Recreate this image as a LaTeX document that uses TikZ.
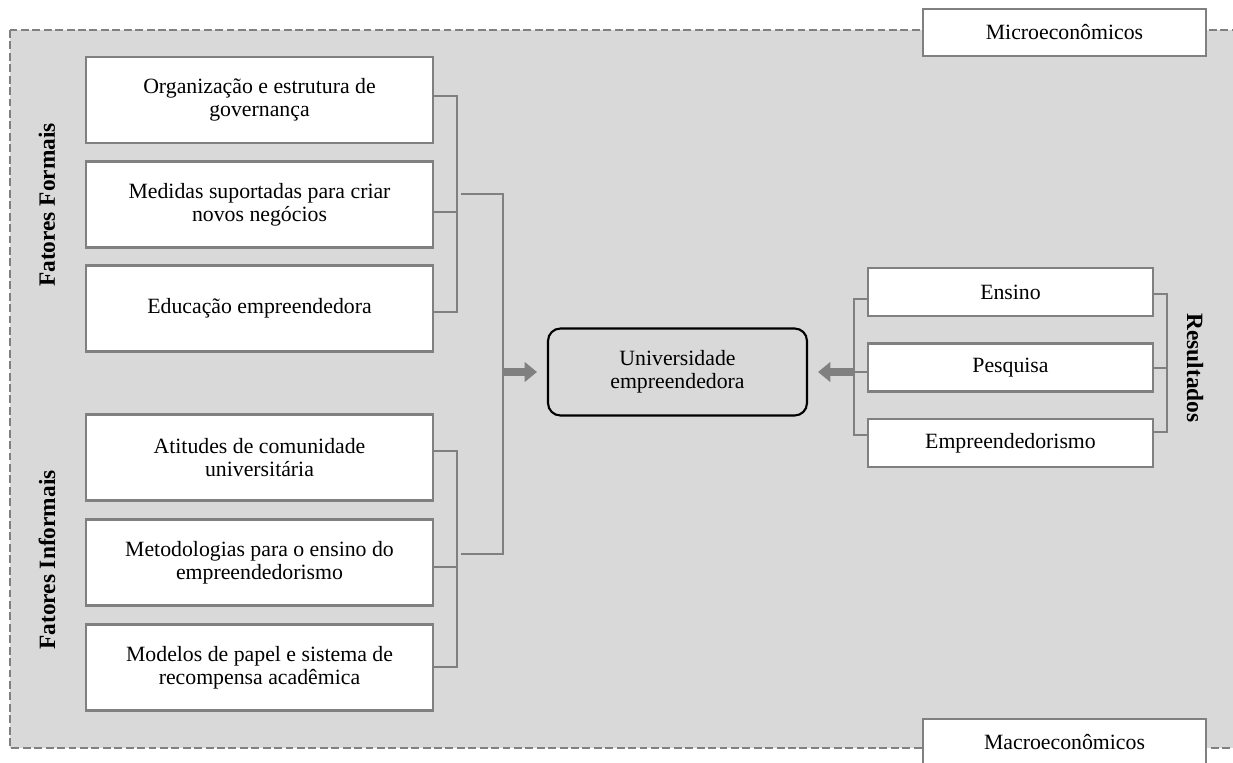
\documentclass[tikz,border=0pt]{standalone}
\usepackage{fontspec}
\setmainfont{Liberation Serif}
\usetikzlibrary{positioning}
\usetikzlibrary{arrows.meta}

\definecolor{fundo}{RGB}{217,217,217}
\definecolor{linha}{RGB}{128,128,128}

\tikzset{
  texto/.style={font=\fontsize{12.4}{13}\selectfont},
  caixa/.style={texto, draw=linha, line width=1.4pt, fill=white, align=center, inner sep=0pt,
    minimum width=6.94cm, minimum height=1.72cm},
  caixares/.style={caixa, minimum width=5.7cm, minimum height=0.96cm},
  caixaext/.style={caixa, minimum width=5.66cm, minimum height=0.94cm},
  central/.style={texto, draw=black, line width=1.2pt, rounded corners=7pt, align=center,
    inner sep=0pt, minimum width=5.18cm, minimum height=1.74cm},
  rotulo/.style={font=\fontsize{13.3}{14}\selectfont\bfseries},
  borda/.style={draw=linha, fill=fundo, line width=1.2pt, dash pattern=on 4.5pt off 2pt},
  chave/.style={draw=linha, line width=1.4pt},
  seta/.style={draw=linha, line width=4.5pt, -{Triangle[length=7pt,width=11pt]}}
}

\begin{document}
\begin{tikzpicture}[x=0.02cm, y=-0.02cm]
  \useasboundingbox (0,0) rectangle (1233,763);
  \clip (0,0) rectangle (1233,763);

  % fundo tracejado
  \draw[borda] (10,30) rectangle (1260,748);

  \node[caixaext] (micro) at (1064.5,32.5) {Microeconômicos};
  \node[caixaext] (macro) at (1064.5,742.5) {Macroeconômicos};

  % fatores formais
  \node[caixa] (org) at (259.5,100) {Organização e estrutura de\\governança};
  \node[caixa] (med) at (259.5,204.5) {Medidas suportadas para criar\\novos negócios};
  \node[caixa] (edu) at (259.5,308.5) {Educação empreendedora};
  \node[rotulo, rotate=90] (formais) at (47,205) {Fatores Formais};

  % fatores informais
  \node[caixa] (ati) at (259.5,457.5) {Atitudes de comunidade\\universitária};
  \node[caixa] (met) at (259.5,562.5) {Metodologias para o ensino do\\empreendedorismo};
  \node[caixa] (mod) at (259.5,667.5) {Modelos de papel e sistema de\\recompensa acadêmica};
  \node[rotulo, rotate=90] (informais) at (47,560) {Fatores Informais};

  \node[central] (univ) at (677.5,372) {Universidade\\empreendedora};

  % resultados
  \node[caixares] (ensino) at (1010.5,292) {Ensino};
  \node[caixares] (pesq) at (1010.5,367.5) {Pesquisa};
  \node[caixares] (empr) at (1010.5,443) {Empreendedorismo};
  \node[rotulo, rotate=-90] (result) at (1195,368) {Resultados};

  % chaves da esquerda
  \coordinate (juntaF) at (461,194);
  \coordinate (juntaI) at (461,554);
  \draw[chave] (org.east |- 0,96) -- (457,96) -- (457,312) -- (edu.east |- 0,312);
  \draw[chave] (med.east |- 0,212) -- (457,212);
  \draw[chave] (ati.east |- 0,451) -- (457,451) -- (457,667) -- (mod.east |- 0,667);
  \draw[chave] (met.east |- 0,567) -- (457,567);
  \draw[chave] (juntaF) -- (503,194) -- (503,554) -- (juntaI);
  \draw[seta] (503,372) -- ([xshift=-0.2cm]univ.west);

  % chaves da direita
  \draw[chave] (ensino.west |- 0,299) -- (854,299) -- (854,435) -- (empr.west |- 0,435);
  \draw[chave] (pesq.west |- 0,372) -- (854,372);
  \draw[chave] (ensino.east |- 0,294) -- (1167,294) -- (1167,432) -- (empr.east |- 0,432);
  \draw[chave] (pesq.east |- 0,368) -- (1167,368);
  \draw[seta] (854,372) -- ([xshift=0.2cm]univ.east);
\end{tikzpicture}
\end{document}
